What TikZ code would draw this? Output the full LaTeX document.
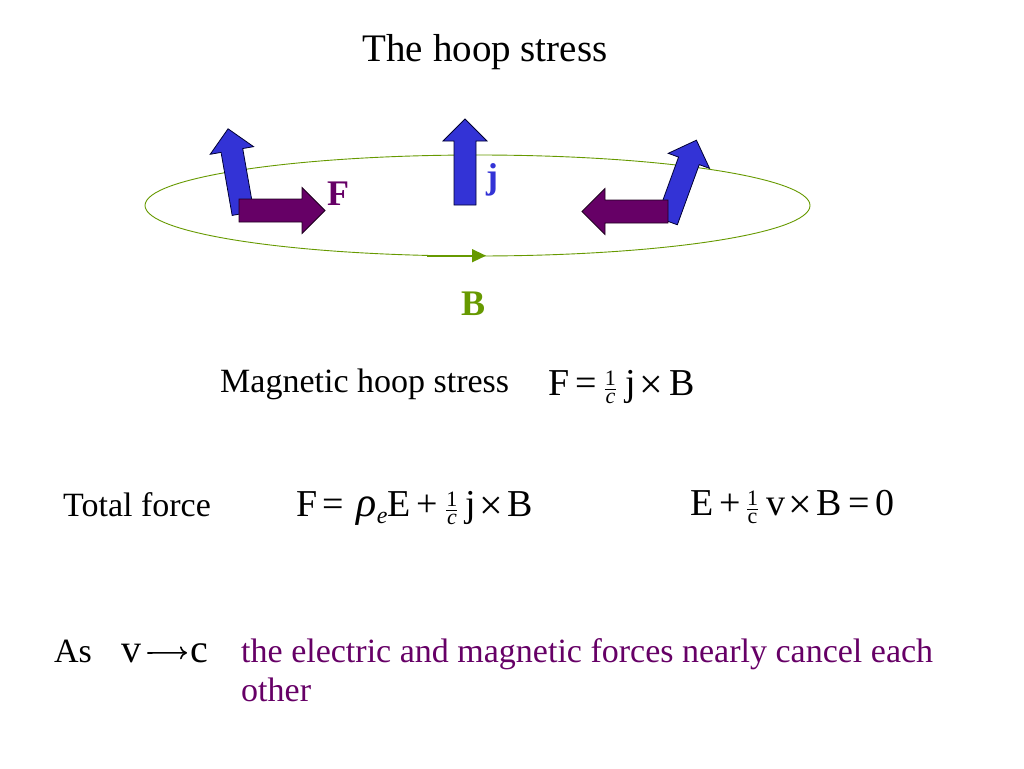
\documentclass[tikz,border=0pt]{standalone}
\usepackage{fontspec}
\setmainfont{Liberation Serif}
\usetikzlibrary{arrows.meta}
\definecolor{jblue}{RGB}{51,51,214}
\definecolor{fpurple}{RGB}{102,0,102}
\definecolor{bgreen}{RGB}{102,153,0}
\newcommand\myfr[2]{$\frac{\hbox{\fontsize{22}{22}\selectfont #1}}{\hbox{\fontsize{22}{22}\selectfont #2}}$}
\newcommand\tms{\kern3pt\raisebox{-3pt}{\fontsize{42}{42}\selectfont ×}\kern5pt}
\tikzset{
  txt/.style={inner sep=0pt, anchor=base west, font=\fontsize{34}{40}\selectfont},
  eqn/.style={inner sep=0pt, anchor=base west, font=\fontsize{38}{40}\selectfont},
  jarrow/.style={fill=jblue, draw=black!80!blue, line width=0.8pt, line join=miter},
  farrow/.style={fill=fpurple, draw=black!70!fpurple, line width=0.8pt, line join=miter},
  bluearrow/.pic={\draw[jarrow] (-11,0) -- (-11,-64) -- (-22,-64) -- (0,-86) -- (22,-64) -- (11,-64) -- (11,0) -- cycle;},
  purplearrow/.pic={\draw[farrow] (0,-11.5) -- (63,-11.5) -- (63,-23) -- (86,0) -- (63,23) -- (63,11.5) -- (0,11.5) -- cycle;}
}
\begin{document}
\begin{tikzpicture}[x=1pt,y=-1pt]
\useasboundingbox (0,0) rectangle (1024,768);
% hoop
\draw[bgreen, line width=0.9pt] (477.5,205.5) ellipse [x radius=332.5, y radius=50.5];
\coordinate (bs) at (427,255.7);
\coordinate (be) at (473,255.7);
\draw[bgreen, line width=1.8pt] (bs) -- (be);
\fill[bgreen] (472,249) -- (486,255.7) -- (472,262.4) -- cycle;
% arrows
\pic[rotate=10] at (243,213.5) {bluearrow};
\pic at (465,205) {bluearrow};
\pic[rotate=-20] at (667,221) {bluearrow};
\pic at (239,210.5) {purplearrow};
\pic[rotate=180] at (668,211.5) {purplearrow};
% labels
\node[inner sep=0pt, anchor=base west, text=fpurple, font=\fontsize{36}{40}\selectfont\bfseries] (Fl) at (327,205) {F};
\node[inner sep=0pt, anchor=base west, text=jblue, font=\fontsize{36}{40}\selectfont\bfseries] (jl) at (486,188) {j};
\node[inner sep=0pt, anchor=base west, text=bgreen, font=\fontsize{36}{40}\selectfont\bfseries] (Bl) at (461,315) {B};
% title
\node[inner sep=0pt, anchor=base, font=\fontsize{39}{44}\selectfont] (title) at (485,62) {The hoop stress};
% text
\node[txt] (mhs) at (220,392) {Magnetic hoop stress};
\node[eqn] (eq1) at (548,395) {F\kern6pt=\kern7pt\myfr{1}{\itshape c}\kern8pt j\kern1pt\tms\kern1pt B};
\node[txt] (tf) at (63,516) {Total force};
\node[eqn] (eq2) at (296,516) {F\kern5pt=\kern13pt{\fontsize{42}{42}\selectfont\itshape ρ}\raisebox{-7pt}{\fontsize{24}{24}\selectfont\itshape e}E\kern6pt+\kern7pt\myfr{1}{\itshape c}\kern7pt j\tms B};
\node[eqn] (eq3) at (690,515) {E\kern6pt+\kern5pt\myfr{1}{c}\kern7pt v\tms B\kern6pt=\kern6pt0};
\node[txt] (as) at (54,662) {As};
\node[inner sep=0pt, anchor=base west, font=\fontsize{40}{44}\selectfont] (v) at (121,662) {v};
\node[inner sep=0pt, anchor=base west, font=\fontsize{40}{44}\selectfont] (c) at (190,662) {c};
\draw[line width=1.6pt, -{To[length=7pt,width=13pt,line width=1.6pt]}, shorten <=6pt, shorten >=3pt] (v) -- (c);
\node[txt, text=fpurple, align=left, anchor=north west, font=\fontsize{34}{39}\selectfont] (purp) at (241,638) {the electric and magnetic forces nearly cancel each\\other};
\end{tikzpicture}
\end{document}
